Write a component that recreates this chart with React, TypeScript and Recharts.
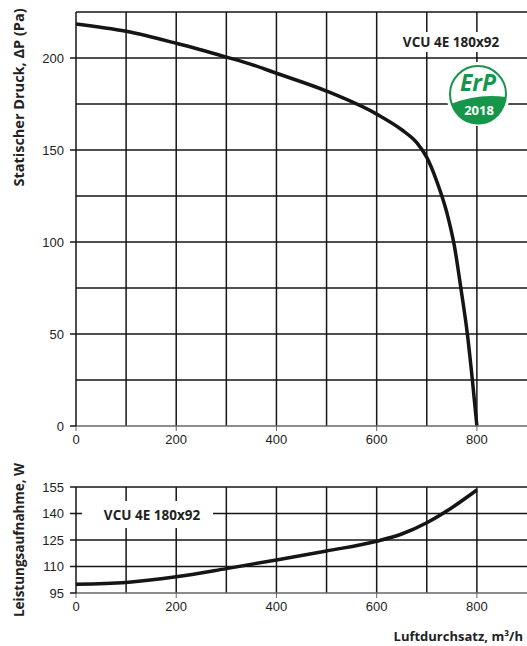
import React from "react";
import { LineChart, Line, XAxis, YAxis, ReferenceLine } from "recharts";

// Fan curve (static pressure) and power draw over air flow for VCU 4E 180x92.

const flowTop = [0, 100, 200, 300, 348, 400, 500, 600, 650, 680, 700, 720, 740, 755, 768, 781, 791, 800];
const pressure = [218.5, 214.5, 208, 200.5, 196.7, 191.7, 182, 169.5, 161, 154, 146, 133, 116, 98, 75, 50, 25, 0];

const flowBottom = [0, 100, 200, 300, 400, 500, 600, 650, 700, 750, 800];
const power = [100, 101, 104.2, 108.8, 113.7, 118.8, 124.3, 128.4, 134.8, 143.3, 153.3];

const xTicks = [0, 200, 400, 600, 800];
const xGrid = [100, 200, 300, 400, 500, 600, 700, 800];
const pressureTicks = [0, 50, 100, 150, 200];
const pressureGrid = [25, 50, 75, 100, 125, 150, 175, 200, 225];
const powerTicks = [95, 110, 125, 140, 155];

const topData = flowTop.map((q, i) => ({ q, v: pressure[i] }));
const bottomData = flowBottom.map((q, i) => ({ q, v: power[i] }));

const GRID = "#161616";
const TICK = { fontSize: 13, fill: "#222", fontFamily: "Liberation Sans, Arial, sans-serif" };
const BOLD = "Open Sans, Liberation Sans, sans-serif";
const GREEN = "#16964a";

export default function App() {
  return (
    <div style={{ position: "absolute", left: 0, top: 0, width: 527, height: 646, background: "#fff" }}>
      <div style={{ position: "absolute", left: 0, top: 0 }}>
        <LineChart width={527} height={446} data={topData} margin={{ top: 12, right: 0, bottom: 0, left: 0 }}>
          <XAxis
            type="number"
            dataKey="q"
            domain={[0, 900]}
            ticks={xTicks}
            height={20}
            tick={TICK}
            tickSize={5}
            tickMargin={4}
            axisLine={{ stroke: "#666", strokeWidth: 1.5 }}
            tickLine={{ stroke: "#666" }}
          />
          <YAxis
            type="number"
            domain={[0, 225]}
            ticks={pressureTicks}
            width={76}
            tick={TICK}
            tickSize={6}
            tickMargin={6}
            axisLine={{ stroke: GRID, strokeWidth: 1.5 }}
            tickLine={{ stroke: GRID, strokeWidth: 1.5 }}
          />
          {xGrid.map((x) => (
            <ReferenceLine key={"x" + x} x={x} stroke={GRID} strokeWidth={1.5} />
          ))}
          {pressureGrid.map((y) => (
            <ReferenceLine key={"y" + y} y={y} stroke={GRID} strokeWidth={1.5} />
          ))}
          <Line type="monotone" dataKey="v" stroke="#151515" strokeWidth={3.5} dot={false} isAnimationActive={false} />
        </LineChart>
      </div>
      <div style={{ position: "absolute", left: 0, top: 475 }}>
        <LineChart width={527} height={140} data={bottomData} margin={{ top: 12, right: 0, bottom: 0, left: 0 }}>
          <XAxis
            type="number"
            dataKey="q"
            domain={[0, 900]}
            ticks={xTicks}
            height={22}
            tick={TICK}
            tickSize={5}
            tickMargin={4}
            axisLine={{ stroke: "#666", strokeWidth: 1.5 }}
            tickLine={{ stroke: "#666" }}
          />
          <YAxis
            type="number"
            domain={[95, 155]}
            ticks={powerTicks}
            width={76}
            tick={TICK}
            tickSize={6}
            tickMargin={6}
            axisLine={{ stroke: GRID, strokeWidth: 1.5 }}
            tickLine={{ stroke: GRID, strokeWidth: 1.5 }}
          />
          {xGrid.map((x) => (
            <ReferenceLine key={"x" + x} x={x} stroke={GRID} strokeWidth={1.5} />
          ))}
          {powerTicks.slice(1).map((y) => (
            <ReferenceLine key={"y" + y} y={y} stroke={GRID} strokeWidth={1.5} />
          ))}
          <Line type="monotone" dataKey="v" stroke="#151515" strokeWidth={3.5} dot={false} isAnimationActive={false} />
        </LineChart>
      </div>
      <svg width={527} height={646} style={{ position: "absolute", left: 0, top: 0, pointerEvents: "none" }}>
        <g fontFamily={BOLD} fontWeight={700} fill="#222" fontSize={13.5}>
          <text transform="translate(24,97.5) rotate(-90)" textAnchor="middle" fontSize={14.5}>Statischer Druck, ΔP (Pa)</text>
          <text transform="translate(24,540) rotate(-90)" textAnchor="middle">Leistungsaufnahme, W</text>
          <text x={523} y={641} textAnchor="end" fontSize={13}>Luftdurchsatz, m³/h</text>
          <rect x={393} y={32} width={115} height={20} fill="#fff" />
          <text x={451} y={47} textAnchor="middle">VCU 4E 180x92</text>
          <rect x={82} y={501} width={131} height={27} fill="#fff" />
          <text x={152} y={520} textAnchor="middle">VCU 4E 180x92</text>
        </g>
        <g>
          <circle cx={478} cy={94} r={32} fill="#fff" />
          <circle cx={478} cy={94} r={28} fill="#fff" stroke={GREEN} strokeWidth={2} />
          <path d="M 451 104 Q 478 93 506 97 A 28 28 0 0 1 451 104 Z" fill={GREEN} />
          <text x={478} y={91} textAnchor="middle" fontFamily={BOLD} fontWeight={700} fontStyle="italic" fontSize={23} fill={GREEN}>ErP</text>
          <text x={479} y={115} textAnchor="middle" fontFamily={BOLD} fontWeight={700} fontSize={13} fill="#fff">2018</text>
        </g>
      </svg>
    </div>
  );
}
